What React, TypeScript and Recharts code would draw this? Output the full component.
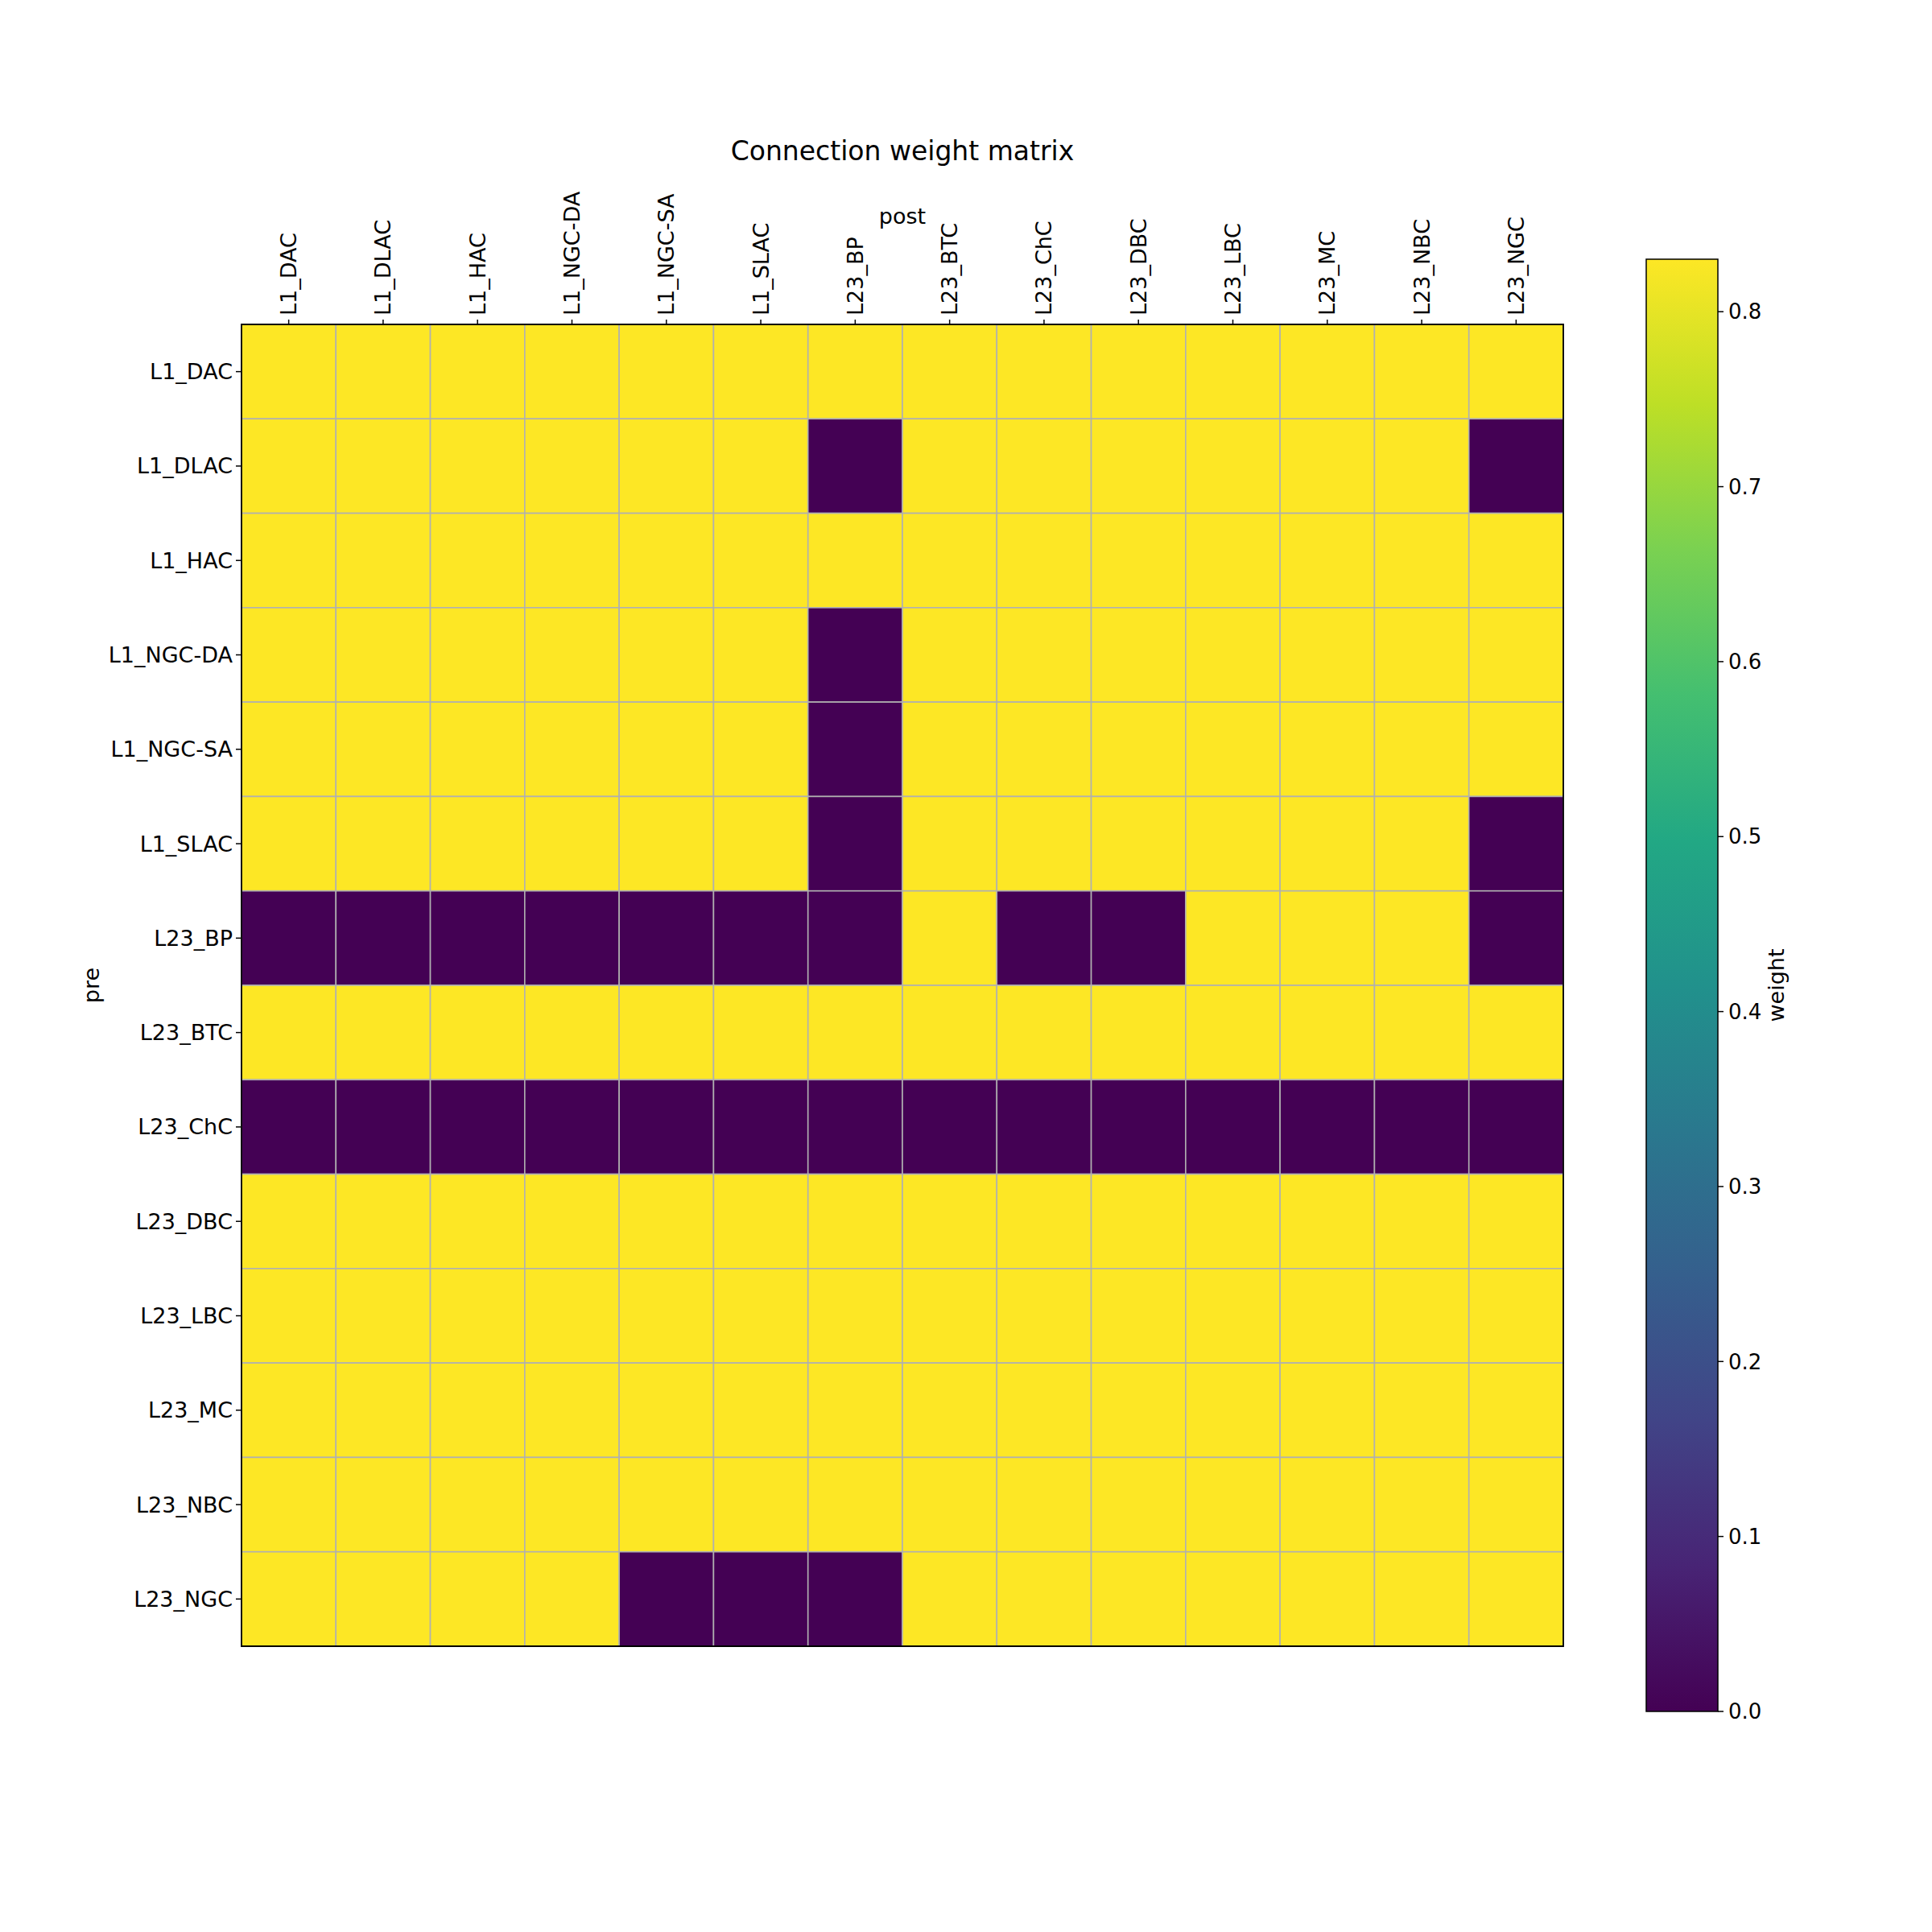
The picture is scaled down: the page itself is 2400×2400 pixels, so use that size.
import React from 'react';
import { ScatterChart, Scatter, XAxis, YAxis, ReferenceArea, BarChart, Bar } from 'recharts';

// cell types, same order on both axes
const preLabels = ['L1_DAC', 'L1_DLAC', 'L1_HAC', 'L1_NGC-DA', 'L1_NGC-SA', 'L1_SLAC', 'L23_BP', 'L23_BTC', 'L23_ChC', 'L23_DBC', 'L23_LBC', 'L23_MC', 'L23_NBC', 'L23_NGC'];
const postLabels = ['L1_DAC', 'L1_DLAC', 'L1_HAC', 'L1_NGC-DA', 'L1_NGC-SA', 'L1_SLAC', 'L23_BP', 'L23_BTC', 'L23_ChC', 'L23_DBC', 'L23_LBC', 'L23_MC', 'L23_NBC', 'L23_NGC'];

// rows = pre, columns = post
const weights = [
  [0.83, 0.83, 0.83, 0.83, 0.83, 0.83, 0.83, 0.83, 0.83, 0.83, 0.83, 0.83, 0.83, 0.83],
  [0.83, 0.83, 0.83, 0.83, 0.83, 0.83, 0, 0.83, 0.83, 0.83, 0.83, 0.83, 0.83, 0],
  [0.83, 0.83, 0.83, 0.83, 0.83, 0.83, 0.83, 0.83, 0.83, 0.83, 0.83, 0.83, 0.83, 0.83],
  [0.83, 0.83, 0.83, 0.83, 0.83, 0.83, 0, 0.83, 0.83, 0.83, 0.83, 0.83, 0.83, 0.83],
  [0.83, 0.83, 0.83, 0.83, 0.83, 0.83, 0, 0.83, 0.83, 0.83, 0.83, 0.83, 0.83, 0.83],
  [0.83, 0.83, 0.83, 0.83, 0.83, 0.83, 0, 0.83, 0.83, 0.83, 0.83, 0.83, 0.83, 0],
  [0, 0, 0, 0, 0, 0, 0, 0.83, 0, 0, 0.83, 0.83, 0.83, 0],
  [0.83, 0.83, 0.83, 0.83, 0.83, 0.83, 0.83, 0.83, 0.83, 0.83, 0.83, 0.83, 0.83, 0.83],
  [0, 0, 0, 0, 0, 0, 0, 0, 0, 0, 0, 0, 0, 0],
  [0.83, 0.83, 0.83, 0.83, 0.83, 0.83, 0.83, 0.83, 0.83, 0.83, 0.83, 0.83, 0.83, 0.83],
  [0.83, 0.83, 0.83, 0.83, 0.83, 0.83, 0.83, 0.83, 0.83, 0.83, 0.83, 0.83, 0.83, 0.83],
  [0.83, 0.83, 0.83, 0.83, 0.83, 0.83, 0.83, 0.83, 0.83, 0.83, 0.83, 0.83, 0.83, 0.83],
  [0.83, 0.83, 0.83, 0.83, 0.83, 0.83, 0.83, 0.83, 0.83, 0.83, 0.83, 0.83, 0.83, 0.83],
  [0.83, 0.83, 0.83, 0.83, 0, 0, 0, 0.83, 0.83, 0.83, 0.83, 0.83, 0.83, 0.83],
];

const colorbarTicks = [0, 0.1, 0.2, 0.3, 0.4, 0.5, 0.6, 0.7, 0.8];

const VIRIDIS = ['#440154', '#482475', '#414487', '#355f8d', '#2a788e', '#21918c', '#22a884', '#44bf70', '#7ad151', '#bddf26', '#fde725'];
const FONT = '"DejaVu Sans", sans-serif';

const vmax = Math.max(...weights.flat());
const cells = weights.flatMap((row, r) => row.map((v, c) => ({ x: c, y: r, value: v })));

const hex = (h: string) => [1, 3, 5].map(i => parseInt(h.slice(i, i + 2), 16));
const viridis = (t: number) => {
  const p = Math.min(Math.max(t, 0), 1) * (VIRIDIS.length - 1);
  const i = Math.min(Math.floor(p), VIRIDIS.length - 2);
  const f = p - i;
  const a = hex(VIRIDIS[i]);
  const b = hex(VIRIDIS[i + 1]);
  return `rgb(${a.map((v, k) => Math.round(v + (b[k] - v) * f)).join(',')})`;
};

// plot box
const PLOT_L = 300;
const PLOT_T = 403;
const PLOT_W = 1642;
const PLOT_H = 1642;
const CHART_W = 2000;
const CHART_H = 2100;

const cellW = PLOT_W / postLabels.length;
const cellH = PLOT_H / preLabels.length;

const Cell = (props: any) => {
  const { cx, cy, payload } = props;
  return (
    <rect
      x={cx - cellW / 2}
      y={cy - cellH / 2}
      width={cellW}
      height={cellH}
      fill={viridis(payload.value / vmax)}
      stroke="#b0b0b0"
      strokeWidth={1.6}
    />
  );
};

const TopTick = (props: any) => {
  const { x, y, payload } = props;
  return (
    <text x={x} y={y} transform={`rotate(-90 ${x} ${y})`} textAnchor="start" dominantBaseline="central" fontSize={27} fontFamily={FONT} fill="#000">
      {postLabels[payload.value]}
    </text>
  );
};

const LeftTick = (props: any) => {
  const { x, y, payload } = props;
  return (
    <text x={x} y={y} textAnchor="end" dominantBaseline="central" fontSize={27} fontFamily={FONT} fill="#000">
      {preLabels[payload.value]}
    </text>
  );
};

const idx = postLabels.map((_, i) => i);

const App: React.FC = () => {
  return (
    <div style={{ position: 'absolute', left: 0, top: 0, width: 2400, height: 2400, background: '#fff' }}>
      <div style={{ position: 'absolute', left: 0, top: 0 }}>
        <ScatterChart width={CHART_W} height={CHART_H} margin={{ top: PLOT_T - 150, left: PLOT_L - 200, right: CHART_W - PLOT_L - PLOT_W, bottom: CHART_H - PLOT_T - PLOT_H }}>
          <XAxis
            type="number"
            dataKey="x"
            orientation="top"
            height={150}
            domain={[-0.5, postLabels.length - 0.5]}
            ticks={idx}
            interval={0}
            axisLine={false}
            tickLine={{ stroke: '#000', strokeWidth: 1.5 }}
            tickSize={6}
            tickMargin={5}
            tick={<TopTick />}
          />
          <YAxis
            type="number"
            dataKey="y"
            width={200}
            reversed
            domain={[-0.5, preLabels.length - 0.5]}
            ticks={idx}
            interval={0}
            axisLine={false}
            tickLine={{ stroke: '#000', strokeWidth: 1.5 }}
            tickSize={7}
            tickMargin={4}
            tick={<LeftTick />}
          />
          <Scatter data={cells} shape={<Cell />} isAnimationActive={false} />
          <ReferenceArea
            x1={-0.5}
            x2={postLabels.length - 0.5}
            y1={-0.5}
            y2={preLabels.length - 0.5}
            fill="none"
            fillOpacity={0}
            stroke="#000"
            strokeOpacity={1}
            strokeWidth={1.8}
            ifOverflow="visible"
            zIndex={1200}
          />
        </ScatterChart>
      </div>

      <div style={{ position: 'absolute', left: 1990, top: 0 }}>
        <BarChart width={300} height={2400} data={[{ name: 'weight', value: vmax }]} margin={{ top: 322, left: 55, right: 36, bottom: 274 }} barCategoryGap={0}>
          <defs>
            <linearGradient id="viridisGrad" x1="0" y1="1" x2="0" y2="0">
              {VIRIDIS.map((c, i) => (
                <stop key={i} offset={`${(i / (VIRIDIS.length - 1)) * 100}%`} stopColor={c} />
              ))}
            </linearGradient>
          </defs>
          <XAxis dataKey="name" hide />
          <YAxis
            orientation="right"
            width={120}
            domain={[0, vmax]}
            ticks={colorbarTicks}
            interval={0}
            tickFormatter={(v: number) => v.toFixed(1)}
            axisLine={false}
            tickLine={{ stroke: '#000', strokeWidth: 1.5 }}
            tickSize={7}
            tickMargin={6}
            tick={{ fontSize: 26, fontFamily: FONT, fill: '#000' }}
          />
          <Bar dataKey="value" fill="url(#viridisGrad)" stroke="#000" strokeWidth={1.5} isAnimationActive={false} />
        </BarChart>
      </div>

      <svg width={2400} height={2400} style={{ position: 'absolute', left: 0, top: 0, pointerEvents: 'none' }}>
        <text x={PLOT_L + PLOT_W / 2} y={187} textAnchor="middle" dominantBaseline="central" fontSize={33} fontFamily={FONT} fill="#000">
          Connection weight matrix
        </text>
        <text x={PLOT_L + PLOT_W / 2} y={268} textAnchor="middle" dominantBaseline="central" fontSize={27} fontFamily={FONT} fill="#000">
          post
        </text>
        <text x={113} y={1224} transform="rotate(-90 113 1224)" textAnchor="middle" dominantBaseline="central" fontSize={27} fontFamily={FONT} fill="#000">
          pre
        </text>
        <text x={2206} y={1224} transform="rotate(-90 2206 1224)" textAnchor="middle" dominantBaseline="central" fontSize={27} fontFamily={FONT} fill="#000">
          weight
        </text>
      </svg>
    </div>
  );
};

export default App;
